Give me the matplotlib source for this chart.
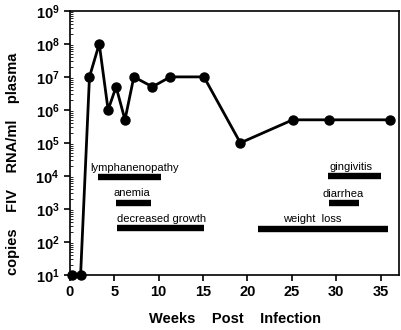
import matplotlib
matplotlib.use("Agg")
import matplotlib.pyplot as plt
from matplotlib.ticker import LogLocator, NullFormatter, FixedLocator

plt.rcParams['font.family'] = ['Liberation Sans', 'DejaVu Sans']

# viral load over time
weeks = [0.2, 1.2, 2.2, 3.3, 4.3, 5.2, 6.2, 7.2, 9.3, 11.3, 15.1, 19.2, 25.1, 29.2, 36.1]
copies = [10, 10, 1e7, 1e8, 1e6, 5e6, 5e5, 1e7, 5e6, 1e7, 1e7, 1e5, 5e5, 5e5, 5e5]

# clinical signs: label, start week, end week, y level
signs = ['lymphanenopathy', 'anemia', 'decreased growth', 'gingivitis', 'diarrhea', 'weight  loss']
sign_start = [3.2, 5.2, 5.3, 29.1, 29.2, 21.2]
sign_end = [10.3, 9.1, 15.1, 35.1, 32.6, 35.8]
sign_level = [9e3, 1.55e3, 2.6e2, 1e4, 1.5e3, 2.5e2]

# where the sign labels sit (left edge, in weeks)
label_x = [2.25, 4.95, 5.35, 29.2, 28.5, 24.0]

fig = plt.figure(figsize=(4.02, 3.30), dpi=100)
ax = fig.add_axes([0.174, 0.167, 0.819, 0.800])

ax.plot(weeks, copies, color='black', lw=2, marker='o', markersize=6.5, clip_on=False, zorder=3)

for lab, s, e, lev, lx in zip(signs, sign_start, sign_end, sign_level, label_x):
    ax.hlines(lev, s, e, color='black', lw=4.6)
    ax.text(lx, lev * 1.35, lab, ha='left', va='bottom', fontsize=8)

ax.set_yscale('log')
ax.set_ylim(10, 1e9)
ax.set_xlim(0, 37.1)
ax.xaxis.set_major_locator(FixedLocator([0, 5, 10, 15, 20, 25, 30, 35]))
ax.yaxis.set_major_locator(LogLocator(base=10, numticks=20))
ax.yaxis.set_minor_locator(LogLocator(base=10, subs=range(2, 10), numticks=20))
ax.yaxis.set_minor_formatter(NullFormatter())
ax.tick_params(axis='both', which='major', direction='out', length=4, width=1.2, labelsize=10.5)
ax.tick_params(axis='y', which='minor', direction='in', length=2, width=0.6)
for lbl in ax.get_xticklabels() + ax.get_yticklabels():
    lbl.set_fontweight('bold')
for sp in ax.spines.values():
    sp.set_linewidth(1.2)

ax.set_xlabel('Weeks    Post    Infection', fontsize=10.5, fontweight='bold')
ax.xaxis.set_label_coords(0.5, -0.14)
ax.set_ylabel('copies    FIV    RNA/ml    plasma', fontsize=10.5, fontweight='bold')
ax.yaxis.set_label_coords(-0.152, 0.42)

fig.savefig('out.png', dpi=100)
